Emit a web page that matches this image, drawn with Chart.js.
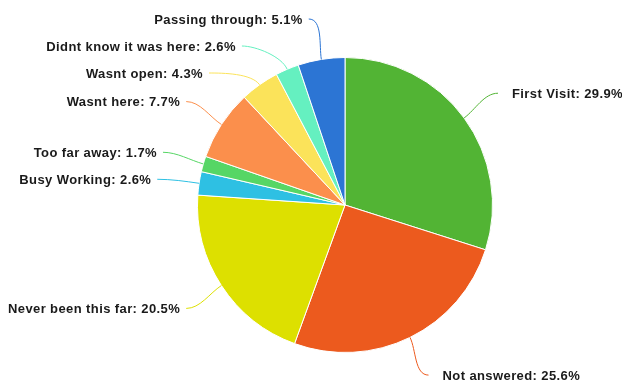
<!DOCTYPE html>
<html>
<head>
<meta charset="utf-8">
<script src="https://cdn.jsdelivr.net/npm/chart.js@4/dist/chart.umd.min.js"></script>
<style>
  html, body { margin: 0; padding: 0; background: #fff; }
  #wrap { width: 622px; height: 381px; position: relative; }
</style>
</head>
<body>
<div id="wrap"><canvas id="pie"></canvas></div>
<script>
// Survey answers, counts out of 117 responses
const reasons = ['First Visit', 'Not answered', 'Never been this far', 'Busy Working',
    'Too far away', 'Wasnt here', 'Wasnt open', 'Didnt know it was here', 'Passing through'];
const counts = [35, 30, 24, 3, 2, 9, 5, 3, 6];
const sliceColors = ['#52b434', '#ec5a1e', '#dde000', '#2ec0e3', '#56d665',
    '#fb8f4c', '#fbe35a', '#65f0c0', '#2c75d4'];

const total = counts.reduce((a, b) => a + b, 0);

// Outside labels with soft leader lines, spread out so they don't collide
const pieLabels = {
    id: 'pieLabels',
    afterDatasetsDraw(chart) {
        const ctx = chart.ctx;
        const arcs = chart.getDatasetMeta(0).data;
        const gap = 27;
        const items = arcs.map((arc, i) => {
            const mid = (arc.startAngle + arc.endAngle) / 2;
            const r = arc.outerRadius;
            const R = r + 42;
            return {
                i, arc, mid, r, R,
                cx: arc.x, cy: arc.y,
                right: Math.cos(mid) >= 0,
                y: arc.y + R * Math.sin(mid)
            };
        });

        [true, false].forEach(side => {
            const list = items.filter(it => it.right === side).sort((a, b) => a.y - b.y);
            let prev = -Infinity;
            list.forEach(it => {
                it.y = Math.max(it.y, prev + gap, 19);
                prev = it.y;
            });
        });

        ctx.save();
        ctx.font = 'bold 13px "Liberation Sans", Arial, sans-serif';
        ctx.letterSpacing = '0.4px';
        ctx.textBaseline = 'middle';
        items.forEach(it => {
            const dir = it.right ? 1 : -1;
            const dy = it.y - it.cy;
            const ax = it.cx + dir * Math.sqrt(Math.max(it.R * it.R - dy * dy, 0));
            const ex = it.cx + it.r * Math.cos(it.mid);
            const ey = it.cy + it.r * Math.sin(it.mid);
            const kx = it.cx + (it.r + 14) * Math.cos(it.mid);
            const ky = it.cy + (it.r + 14) * Math.sin(it.mid);

            ctx.strokeStyle = sliceColors[it.i];
            ctx.lineWidth = 1;
            ctx.beginPath();
            ctx.moveTo(ax, it.y);
            ctx.bezierCurveTo(ax - dir * 14, it.y, kx, ky, ex, ey);
            ctx.stroke();

            const pct = (counts[it.i] / total * 100).toFixed(1);
            ctx.fillStyle = '#1a1a1a';
            ctx.textAlign = it.right ? 'left' : 'right';
            ctx.fillText(reasons[it.i] + ': ' + pct + '%', ax + (it.right ? 14 : -6), it.y + 1);
        });
        ctx.restore();
    }
};

new Chart(document.getElementById('pie'), {
    type: 'pie',
    data: {
        labels: reasons,
        datasets: [{
            data: counts,
            backgroundColor: sliceColors,
            borderColor: '#ffffff',
            borderWidth: 1
        }]
    },
    options: {
        responsive: true,
        maintainAspectRatio: false,
        animation: false,
        layout: { padding: { top: 57, bottom: 28, left: 197, right: 129 } },
        plugins: {
            legend: { display: false },
            tooltip: { enabled: false }
        }
    },
    plugins: [pieLabels]
});
</script>
</body>
</html>
